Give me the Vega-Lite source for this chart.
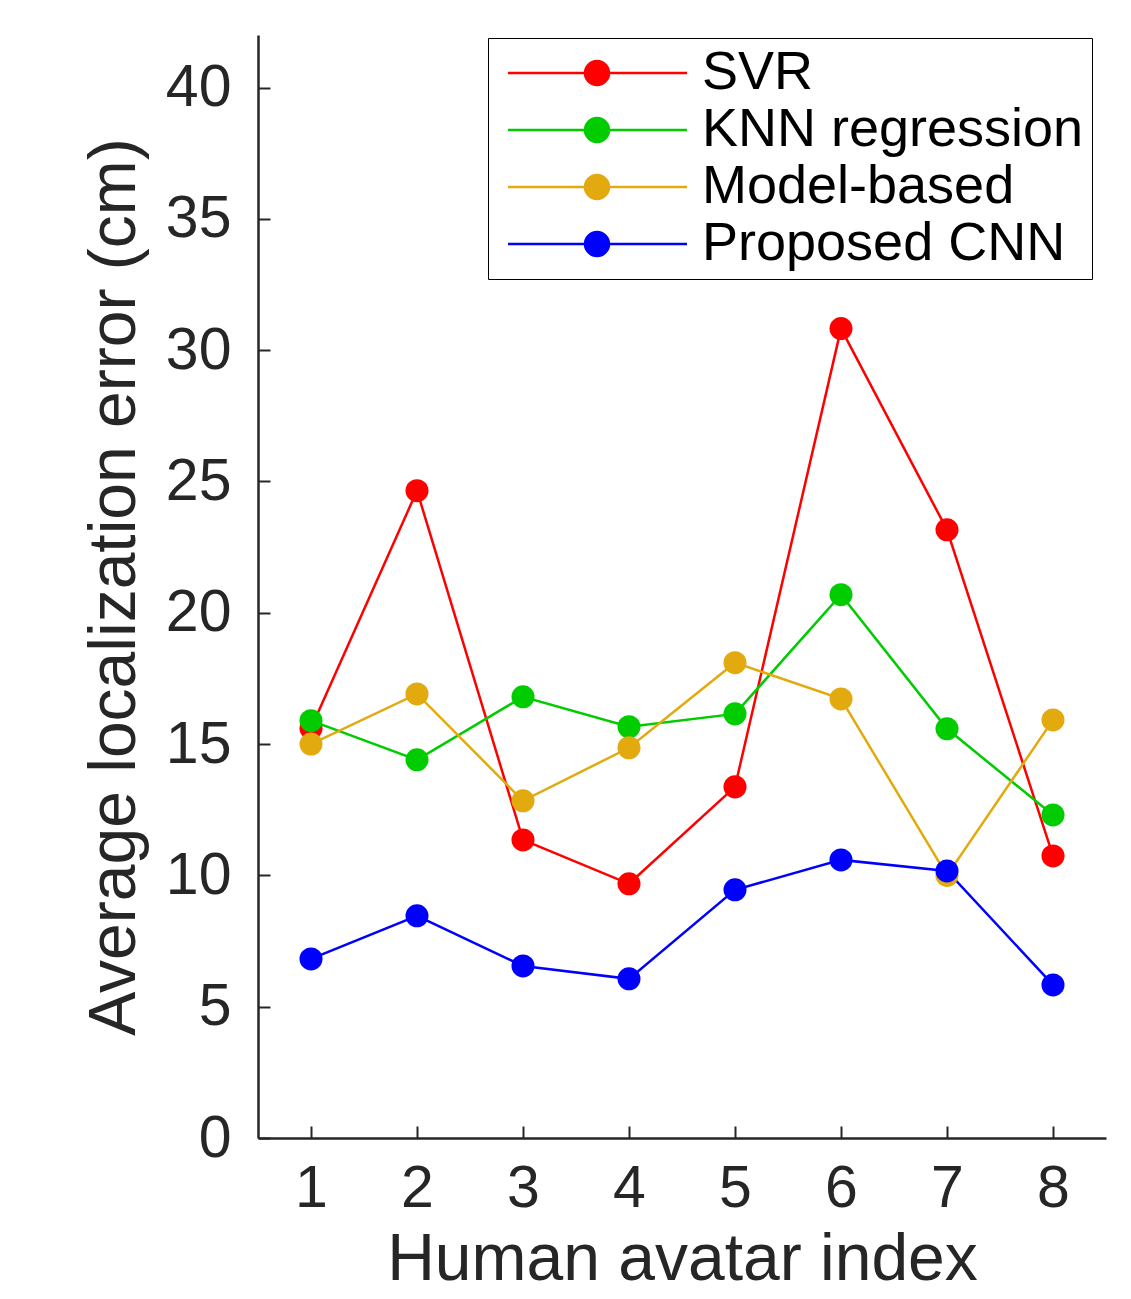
{
  "$schema": "https://vega.github.io/schema/vega-lite/v6.json",
  "width": 848,
  "height": 1103,
  "autosize": {"type": "none"},
  "padding": {"left": 258, "top": 35, "right": 25, "bottom": 161},
  "background": "white",
  "config": {"view": {"stroke": null}, "font": "Liberation Sans"},
  "data": {"values": [
    {"series": "SVR", "x": 1, "y": 15.6},
    {"series": "SVR", "x": 2, "y": 24.65},
    {"series": "SVR", "x": 3, "y": 11.35},
    {"series": "SVR", "x": 4, "y": 9.68},
    {"series": "SVR", "x": 5, "y": 13.37},
    {"series": "SVR", "x": 6, "y": 30.82},
    {"series": "SVR", "x": 7, "y": 23.16},
    {"series": "SVR", "x": 8, "y": 10.74},
    {"series": "KNN regression", "x": 1, "y": 15.89},
    {"series": "KNN regression", "x": 2, "y": 14.4},
    {"series": "KNN regression", "x": 3, "y": 16.8},
    {"series": "KNN regression", "x": 4, "y": 15.66},
    {"series": "KNN regression", "x": 5, "y": 16.15},
    {"series": "KNN regression", "x": 6, "y": 20.69},
    {"series": "KNN regression", "x": 7, "y": 15.58},
    {"series": "KNN regression", "x": 8, "y": 12.3},
    {"series": "Model-based", "x": 1, "y": 15.0},
    {"series": "Model-based", "x": 2, "y": 16.91},
    {"series": "Model-based", "x": 3, "y": 12.84},
    {"series": "Model-based", "x": 4, "y": 14.86},
    {"series": "Model-based", "x": 5, "y": 18.1},
    {"series": "Model-based", "x": 6, "y": 16.72},
    {"series": "Model-based", "x": 7, "y": 10.0},
    {"series": "Model-based", "x": 8, "y": 15.92},
    {"series": "Proposed CNN", "x": 1, "y": 6.82},
    {"series": "Proposed CNN", "x": 2, "y": 8.46},
    {"series": "Proposed CNN", "x": 3, "y": 6.55},
    {"series": "Proposed CNN", "x": 4, "y": 6.06},
    {"series": "Proposed CNN", "x": 5, "y": 9.45},
    {"series": "Proposed CNN", "x": 6, "y": 10.59},
    {"series": "Proposed CNN", "x": 7, "y": 10.17},
    {"series": "Proposed CNN", "x": 8, "y": 5.83}
  ]},
  "encoding": {
    "x": {
      "field": "x", "type": "quantitative",
      "scale": {"domain": [0.5, 8.5], "nice": false, "zero": false},
      "axis": {
        "title": "Human avatar index", "values": [1, 2, 3, 4, 5, 6, 7, 8],
        "grid": false, "tickSize": -12, "tickWidth": 2, "tickColor": "#262626",
        "domainColor": "#262626", "domainWidth": 2.5,
        "labelFontSize": 59, "labelColor": "#262626", "labelPadding": 33,
        "titleFontSize": 66, "titleFontWeight": "normal", "titleColor": "#262626", "titlePadding": 9
      }
    },
    "y": {
      "field": "y", "type": "quantitative",
      "scale": {"domain": [0, 42], "nice": false},
      "axis": {
        "title": "Average localization error (cm)", "values": [0, 5, 10, 15, 20, 25, 30, 35, 40],
        "grid": false, "tickSize": -12, "tickWidth": 2, "tickColor": "#262626",
        "domainColor": "#262626", "domainWidth": 2.5,
        "labelFontSize": 59, "labelColor": "#262626", "labelPadding": 39,
        "titleFontSize": 66, "titleFontWeight": "normal", "titleColor": "#262626", "titlePadding": 17
      }
    },
    "color": {
      "field": "series", "type": "nominal",
      "scale": {
        "domain": ["SVR", "KNN regression", "Model-based", "Proposed CNN"],
        "range": ["#ff0000", "#00cc00", "#e3aa0f", "#0000ff"]
      },
      "legend": {
        "title": null, "orient": "none", "legendX": 230, "legendY": 3,
        "symbolType": "M-0.75,0H8.2M3.1,0A0.6,0.6 0 1,0 4.3,0A0.6,0.6 0 1,0 3.1,0Z",
        "symbolSize": 1600, "symbolStrokeWidth": 2.5,
        "labelFontSize": 54, "labelColor": "black", "labelOffset": 152, "labelLimit": 600,
        "rowPadding": 3, "padding": 8,
        "strokeColor": "black", "fillColor": "white",
        "encode": {"symbols": {"update": {
          "fill": {"scale": "color", "field": "value"},
          "stroke": {"scale": "color", "field": "value"},
          "opacity": {"value": 1}
        }}}
      }
    }
  },
  "layer": [
    {"mark": {"type": "line", "strokeWidth": 2.5}},
    {"mark": {"type": "point", "filled": true, "size": 530, "opacity": 1}}
  ]
}
